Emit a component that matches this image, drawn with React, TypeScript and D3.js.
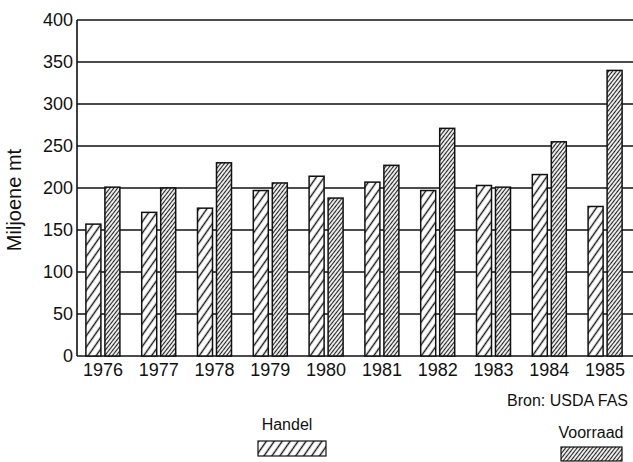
import React, { useEffect, useRef } from "react";
import * as d3 from "d3";

// jaren en waarden (miljoen ton)
const years = ["1976", "1977", "1978", "1979", "1980", "1981", "1982", "1983", "1984", "1985"];
const handel = [157, 171, 176, 197, 214, 207, 197, 203, 216, 178];
const voorraad = [201, 200, 230, 206, 188, 227, 271, 201, 255, 340];
const yTicks = [0, 50, 100, 150, 200, 250, 300, 350, 400];
const seriesNames = ["Handel", "Voorraad"];

const W = 633;
const H = 462;

const drawChart = (node: SVGSVGElement) => {
  const svg = d3.select(node);
  svg.selectAll("*").remove();

  const left = 77, right = 633, top = 20, bottom = 356;
  const font = "'Liberation Sans', Arial, sans-serif";

  // hatch patterns
  const defs = svg.append("defs");
  const hatch = (id: string, gap: number, angle: number, sw: number, color: string) => {
    const p = defs.append("pattern")
      .attr("id", id)
      .attr("patternUnits", "userSpaceOnUse")
      .attr("width", gap)
      .attr("height", gap)
      .attr("patternTransform", `rotate(${angle})`);
    p.append("rect").attr("width", gap).attr("height", gap).attr("fill", "#fff");
    p.append("line")
      .attr("x1", gap / 2).attr("y1", 0)
      .attr("x2", gap / 2).attr("y2", gap)
      .attr("stroke", color)
      .attr("stroke-width", sw);
  };
  hatch("hatch-handel", 6.5, 35, 1.4, "#111");
  hatch("hatch-voorraad", 3, 38, 1.2, "#222");

  const x = d3.scaleBand().domain(years).range([75, right]).padding(0);
  const xInner = d3.scaleBand().domain(seriesNames).range([0, 34]).paddingInner(0.21);
  const y = d3.scaleLinear().domain([0, 400]).range([bottom, top]);

  // gridlines
  svg.append("g")
    .selectAll("line")
    .data(yTicks)
    .join("line")
    .attr("x1", left)
    .attr("x2", right)
    .attr("y1", (d) => y(d))
    .attr("y2", (d) => y(d))
    .attr("stroke", "#111")
    .attr("stroke-width", 1.6);

  // y axis line
  svg.append("line")
    .attr("x1", left).attr("x2", left)
    .attr("y1", top).attr("y2", bottom)
    .attr("stroke", "#111")
    .attr("stroke-width", 1.6);

  // y tick labels
  svg.append("g")
    .selectAll("text")
    .data(yTicks)
    .join("text")
    .attr("x", left - 4)
    .attr("y", (d) => y(d))
    .attr("dy", "0.36em")
    .attr("text-anchor", "end")
    .attr("font-family", font)
    .attr("font-size", 18)
    .attr("fill", "#111")
    .text((d) => d);

  // y axis title
  svg.append("text")
    .attr("transform", `translate(21, ${(top + bottom) / 2 + 12}) rotate(-90)`)
    .attr("text-anchor", "middle")
    .attr("font-family", font)
    .attr("font-size", 20)
    .attr("fill", "#111")
    .text("Miljoene mt");

  // bars
  const series = [handel, voorraad];
  const fills = ["url(#hatch-handel)", "url(#hatch-voorraad)"];
  const groupW = 34;
  series.forEach((vals, si) => {
    svg.append("g")
      .selectAll("rect")
      .data(vals)
      .join("rect")
      .attr("x", (d, i) => x(years[i])! + x.bandwidth() / 2 - groupW / 2 + xInner(seriesNames[si])!)
      .attr("y", (d) => y(d))
      .attr("width", xInner.bandwidth())
      .attr("height", (d) => y(0) - y(d))
      .attr("fill", fills[si])
      .attr("stroke", "#111")
      .attr("stroke-width", 1.5);
  });

  // x labels
  svg.append("g")
    .selectAll("text")
    .data(years)
    .join("text")
    .attr("x", (d) => x(d)! + x.bandwidth() / 2)
    .attr("y", bottom + 20)
    .attr("text-anchor", "middle")
    .attr("font-family", font)
    .attr("font-size", 18)
    .attr("fill", "#111")
    .text((d) => d);

  svg.append("text")
    .attr("x", 628)
    .attr("y", 406)
    .attr("text-anchor", "end")
    .attr("font-family", font)
    .attr("font-size", 16)
    .attr("fill", "#111")
    .text("Bron: USDA FAS");

  // legend
  const legend = [
    { name: "Handel", tx: 287, ty: 430, sx: 258, sy: 441, sw: 68, sh: 15, fill: fills[0] },
    { name: "Voorraad", tx: 591, ty: 438, sx: 561, sy: 447, sw: 61, sh: 14, fill: fills[1] },
  ];
  legend.forEach((l) => {
    svg.append("text")
      .attr("x", l.tx)
      .attr("y", l.ty)
      .attr("text-anchor", "middle")
      .attr("font-family", font)
      .attr("font-size", 16)
      .attr("fill", "#111")
      .text(l.name);
    svg.append("rect")
      .attr("x", l.sx)
      .attr("y", l.sy)
      .attr("width", l.sw)
      .attr("height", l.sh)
      .attr("fill", l.fill)
      .attr("stroke", "#111")
      .attr("stroke-width", 1.2);
  });
};

export default function App() {
  const ref = useRef<SVGSVGElement>(null);
  useEffect(() => {
    if (ref.current) drawChart(ref.current);
  }, []);
  return (
    <svg
      ref={ref}
      width={W}
      height={H}
      style={{ position: "absolute", left: 0, top: 0, background: "#fff" }}
    />
  );
}
